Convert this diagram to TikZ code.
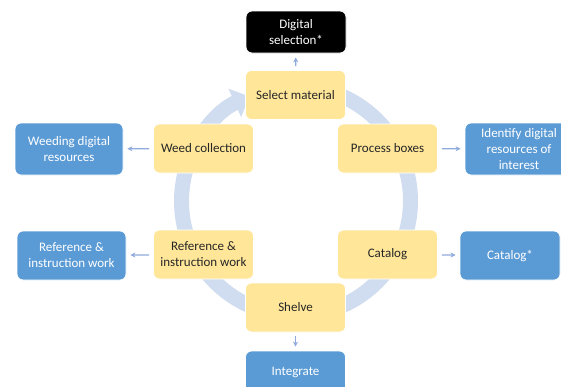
\documentclass[tikz,border=0pt]{standalone}
\usepackage{fontspec}
\setmainfont{Carlito}
\usetikzlibrary{arrows.meta}
\definecolor{gold}{HTML}{FFE699}
\definecolor{ocean}{HTML}{5B9BD5}
\definecolor{ringblue}{HTML}{D0DCEF}
\definecolor{linkblue}{HTML}{8FAADC}
\definecolor{ink}{HTML}{262626}

\begin{document}
\begin{tikzpicture}[x=1pt,y=1pt,
		every node/.style={font=\fontsize{13}{16}\selectfont, align=center, rounded corners=6pt, draw=white, line width=0.8pt, inner sep=2pt},
		cyclebox/.style={fill=gold, text=ink, minimum width=100pt, minimum height=49pt},
		resbox/.style={fill=ocean, text=white, minimum width=108pt, minimum height=52pt},
		digbox/.style={fill=black, text=white, minimum width=100pt, minimum height=42pt},
		link/.style={draw=linkblue, line width=1.2pt, -{Stealth[length=5pt,width=5pt]}, shorten <=4pt, shorten >=4pt}]
			\clip (0,0) rectangle (561,-386);
			\fill[white] (0,0) rectangle (561,-386);
			% the cycle ring
			\coordinate (ctr) at (296,-201);
			\draw[ringblue, line width=15pt, -{Triangle[length=16pt,width=30pt]}]
				([shift={(80:114.5)}]ctr) arc[start angle=80, end angle=-246, radius=114.5];
			% the cycle
			\node[cyclebox] (sel) at (295.5,-95){Select material};
			\node[cyclebox] (proc) at (387.5,-148.5){Process boxes};
			\node[cyclebox] (cat) at (387.5,-254.5){Catalog};
			\node[cyclebox] (shel) at (295.5,-307.5){Shelve};
			\node[cyclebox] (refy) at (203.5,-254.5){Reference \&\\instruction work};
			\node[cyclebox] (weed) at (203.5,-148.5){Weed collection};
			% digital side
			\node[digbox] (dig) at (296,-32){Digital\\selection*};
			\node[resbox] (ident) at (519,-149){Identify digital\\resources of\\interest};
			\node[resbox, minimum width=100pt, minimum height=49pt] (catb) at (510,-255.5){Catalog*};
			\node[resbox, minimum width=100pt, minimum height=42pt] (integ) at (295.5,-372){Integrate};
			\node[resbox, minimum width=109pt, minimum height=49pt] (refb) at (71.5,-255.5){Reference \&\\instruction work};
			\node[resbox] (weedd) at (69,-149){Weeding digital\\resources};
			\draw[link] (sel) -- (dig);
			\draw[link] (proc) -- (ident);
			\draw[link] (cat) -- (catb);
			\draw[link] (shel) -- (integ);
			\draw[link] (refy) -- (refb);
			\draw[link] (weed) -- (weedd);
		\end{tikzpicture}
\end{document}
